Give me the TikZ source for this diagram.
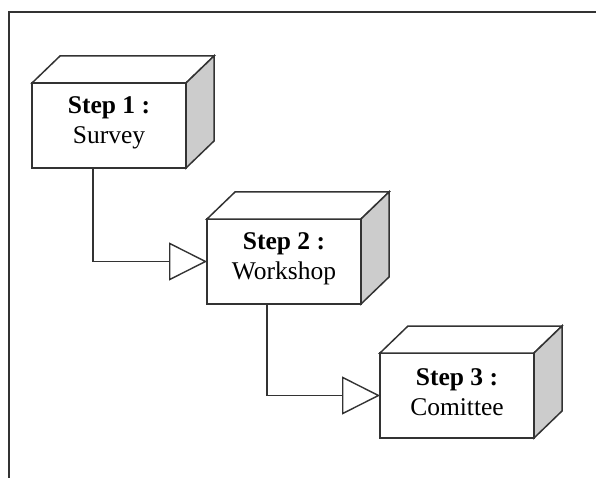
\documentclass[tikz,border=0pt]{standalone}
\usepackage{fontspec}
\setmainfont{Liberation Serif}
\usetikzlibrary{arrows.meta}
\definecolor{edge}{HTML}{333333}
\definecolor{side}{HTML}{CCCCCC}
\tikzset{
  stepbox/.style={draw=edge, line width=1.5pt, fill=white, minimum width=154pt, minimum height=85pt,
    inner sep=0pt, outer sep=0pt},
  steptext/.style={align=center, font=\fontsize{25.5}{30}\selectfont, inner sep=0pt},
  face/.style={draw=edge, line width=1.5pt, line join=miter},
  flow/.style={draw=edge, line width=1.4pt, -{Triangle[open, length=38pt, width=38pt, fill=white]}},
}
\newcommand{\cubefaces}[1]{%
  \path[face, fill=white] (#1.north west) -- ++(28,-27) -- ([shift={(28,-27)}]#1.north east) -- (#1.north east) -- cycle;
  \path[face, fill=side] (#1.north east) -- ++(28,-27) -- ([shift={(28,-27)}]#1.south east) -- (#1.south east) -- cycle;
}
\begin{document}
\begin{tikzpicture}[x=1pt, y=-1pt]
\useasboundingbox (0,0) rectangle (596,478);
\draw[edge, line width=1.5pt] (600,12) -- (9,12) -- (9,482);
\node[stepbox, anchor=north west] (s1) at (32,83) {};
\node[stepbox, anchor=north west] (s2) at (207,219) {};
\node[stepbox, anchor=north west] (s3) at (380,353) {};
\node[steptext] (t1) at ([yshift=3pt]s1.center) {\textbf{Step 1 :}\\Survey};
\node[steptext] (t2) at ([yshift=3pt]s2.center) {\textbf{Step 2 :}\\Workshop};
\node[steptext] (t3) at ([yshift=3pt]s3.center) {\textbf{Step 3 :}\\Comittee};
\cubefaces{s1}
\cubefaces{s2}
\cubefaces{s3}
\draw[flow] ([xshift=61pt]s1.south west) |- (s2.west);
\draw[flow] ([xshift=60pt]s2.south west) |- (s3.west);
\end{tikzpicture}
\end{document}
